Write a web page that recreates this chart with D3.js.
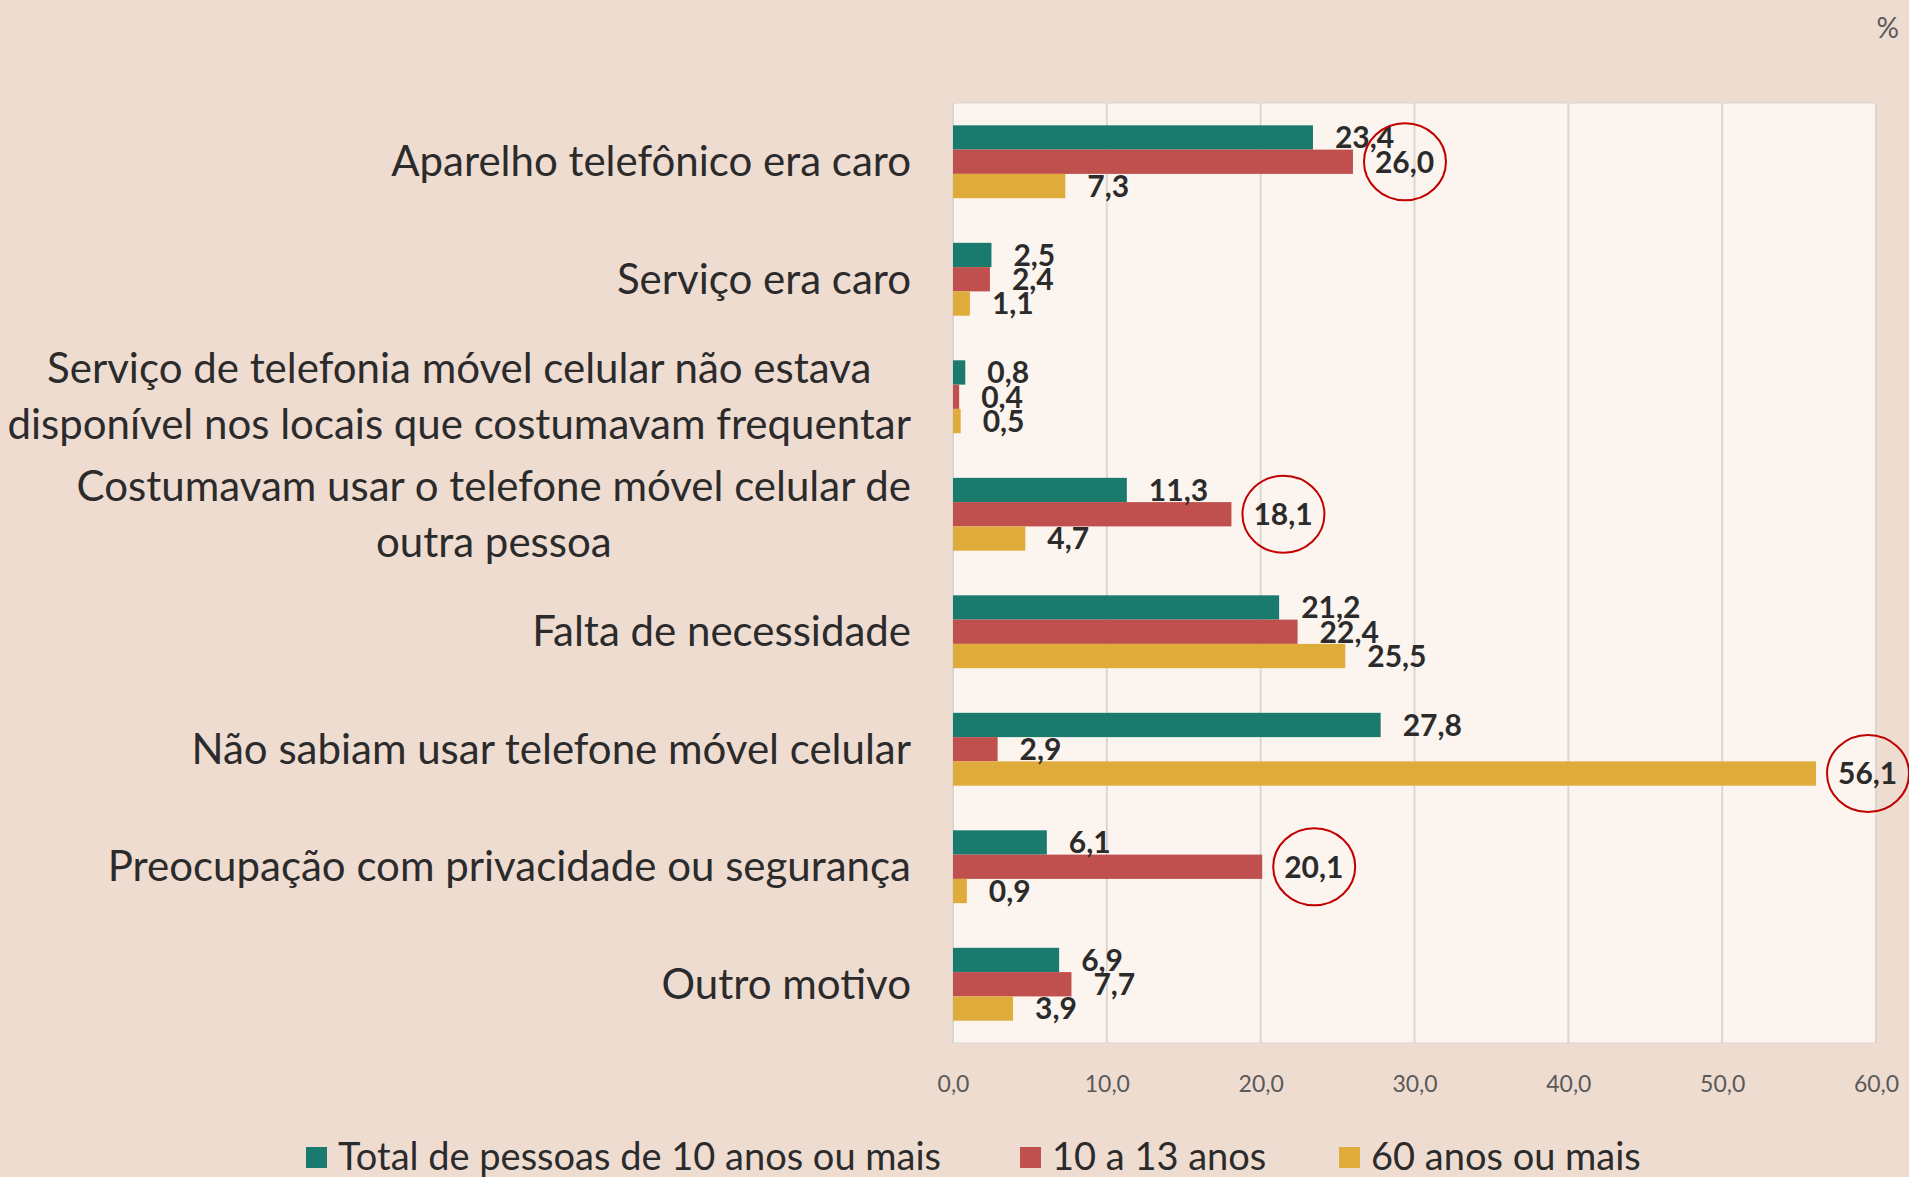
<!DOCTYPE html>
<html>
<head>
<meta charset="utf-8">
<script src="https://cdn.jsdelivr.net/npm/d3@7"></script>
<style>
  body { margin: 0; background: #efdcd1; }
  svg { display: block; font-family: Lato, "Noto Sans", sans-serif; }
</style>
</head>
<body>
<div id="chart"></div>
<script>
// Categories (each entry is the lines of the label)
const categories = [
    ['Aparelho telefônico era caro'],
    ['Serviço era caro'],
    ['Serviço de telefonia móvel celular não estava', 'disponível nos locais que costumavam frequentar'],
    ['Costumavam usar o telefone móvel celular de', 'outra pessoa'],
    ['Falta de necessidade'],
    ['Não sabiam usar telefone móvel celular'],
    ['Preocupação com privacidade ou segurança'],
    ['Outro motivo']
];

const seriesNames = ['Total de pessoas de 10 anos ou mais', '10 a 13 anos', '60 anos ou mais'];
const seriesColors = ['#1a7a6d', '#c0504d', '#dfab3a'];

const totalValues = [23.4, 2.5, 0.8, 11.3, 21.2, 27.8, 6.1, 6.9];
const age10to13Values = [26.0, 2.4, 0.4, 18.1, 22.4, 2.9, 20.1, 7.7];
const age60plusValues = [7.3, 1.1, 0.5, 4.7, 25.5, 56.1, 0.9, 3.9];

const xTicks = [0, 10, 20, 30, 40, 50, 60];

// labels circled in red: [category index, series index]
const highlighted = [[0, 1], [3, 1], [5, 2], [6, 1]];

const width = 1909;
const height = 1177;
const margin = { top: 103, right: 33, bottom: 134, left: 953 };

const allSeries = [totalValues, age10to13Values, age60plusValues];
const rows = [];
categories.forEach((c, i) => {
    allSeries.forEach((vals, s) => {
        rows.push({ cat: i, series: s, value: vals[i] });
    });
});

const locale = d3.formatLocale({ decimal: ',', thousands: '.', grouping: [3], currency: ['R$', ''] });
const fmt = locale.format('.1f');

const svg = d3.select('#chart').append('svg')
    .attr('width', width)
    .attr('height', height);

svg.append('rect')
    .attr('width', width)
    .attr('height', height)
    .attr('fill', '#efdcd1');

// Scales
const xScale = d3.scaleLinear()
    .domain([0, 60])
    .range([margin.left, width - margin.right]);

const yScale = d3.scaleBand()
    .domain(d3.range(categories.length))
    .range([margin.top, height - margin.bottom])
    .paddingInner(0.38)
    .paddingOuter(0.19);

const ySub = d3.scaleBand()
    .domain(d3.range(seriesNames.length))
    .range([0, yScale.bandwidth()]);

// Plot area
svg.append('rect')
    .attr('x', margin.left)
    .attr('y', margin.top)
    .attr('width', xScale(60) - margin.left)
    .attr('height', height - margin.bottom - margin.top)
    .attr('fill', '#fcf4ee')
    .attr('stroke', '#dcd6d2')
    .attr('stroke-width', 1);

// Gridlines
svg.append('g')
    .selectAll('line')
    .data(xTicks)
    .enter().append('line')
    .attr('x1', d => xScale(d))
    .attr('x2', d => xScale(d))
    .attr('y1', margin.top)
    .attr('y2', height - margin.bottom)
    .attr('stroke', '#dcd6d2')
    .attr('stroke-width', 2);

// X axis labels
const xAxis = svg.append('g')
    .attr('transform', `translate(0, ${height - margin.bottom + 30})`)
    .call(d3.axisBottom(xScale).tickValues(xTicks).tickFormat(fmt).tickSize(0));
xAxis.select('.domain').remove();
xAxis.selectAll('text')
    .attr('fill', '#595959')
    .style('font-size', '23px')
    .style('font-family', 'Lato, sans-serif');

// Bars
svg.selectAll('.bar')
    .data(rows)
    .enter().append('rect')
    .attr('class', 'bar')
    .attr('x', xScale(0))
    .attr('y', d => yScale(d.cat) + ySub(d.series))
    .attr('width', d => xScale(d.value) - xScale(0))
    .attr('height', ySub.bandwidth())
    .attr('fill', d => seriesColors[d.series]);

// Value labels
svg.selectAll('.valueLabel')
    .data(rows)
    .enter().append('text')
    .attr('class', 'valueLabel')
    .attr('x', d => xScale(d.value) + 22)
    .attr('y', d => yScale(d.cat) + ySub(d.series) + ySub.bandwidth() / 2)
    .attr('dy', '0.36em')
    .attr('fill', '#2b2b2b')
    .style('font-size', '30px')
    .style('font-weight', 'bold')
    .text(d => fmt(d.value));

// Red circles around highlighted labels
svg.selectAll('.mark')
    .data(highlighted)
    .enter().append('ellipse')
    .attr('class', 'mark')
    .attr('cx', d => xScale(allSeries[d[1]][d[0]]) + 22 + 30)
    .attr('cy', d => yScale(d[0]) + ySub(d[1]) + ySub.bandwidth() / 2)
    .attr('rx', 41)
    .attr('ry', 38.5)
    .attr('fill', 'none')
    .attr('stroke', '#c00000')
    .attr('stroke-width', 2);

// Category labels
const catLabels = svg.selectAll('.catLabel')
    .data(categories)
    .enter().append('text')
    .attr('class', 'catLabel')
    .attr('fill', '#2b2b2b')
    .style('font-size', '42px')
    .attr('text-anchor', 'middle');

catLabels.each(function(lines, i) {
    const t = d3.select(this);
    const cy = yScale(i) + yScale.bandwidth() / 2;
    const lineH = 56;
    lines.forEach((line, k) => {
        t.append('tspan')
            .attr('y', cy + (k - (lines.length - 1) / 2) * lineH)
            .attr('dy', '0.35em')
            .text(line);
    });
    // right-align the block, centre the lines within it
    const tspans = t.selectAll('tspan').nodes();
    const w = d3.max(tspans, n => n.getComputedTextLength());
    t.selectAll('tspan').attr('x', 911 - w / 2);
});

// Percent sign
svg.append('text')
    .attr('x', 1899)
    .attr('y', 38)
    .attr('text-anchor', 'end')
    .attr('fill', '#595959')
    .style('font-size', '28px')
    .text('%');

// Legend
const legendX = [306, 1020, 1339];
const legend = svg.selectAll('.legendItem')
    .data(seriesNames)
    .enter().append('g')
    .attr('class', 'legendItem')
    .attr('transform', (d, i) => `translate(${legendX[i]}, 1157)`);

legend.append('rect')
    .attr('x', 0)
    .attr('y', -10)
    .attr('width', 21)
    .attr('height', 21)
    .attr('fill', (d, i) => seriesColors[i]);

legend.append('text')
    .attr('x', 32)
    .attr('dy', '0.35em')
    .attr('fill', '#2b2b2b')
    .style('font-size', '38px')
    .text(d => d);
</script>
</body>
</html>
